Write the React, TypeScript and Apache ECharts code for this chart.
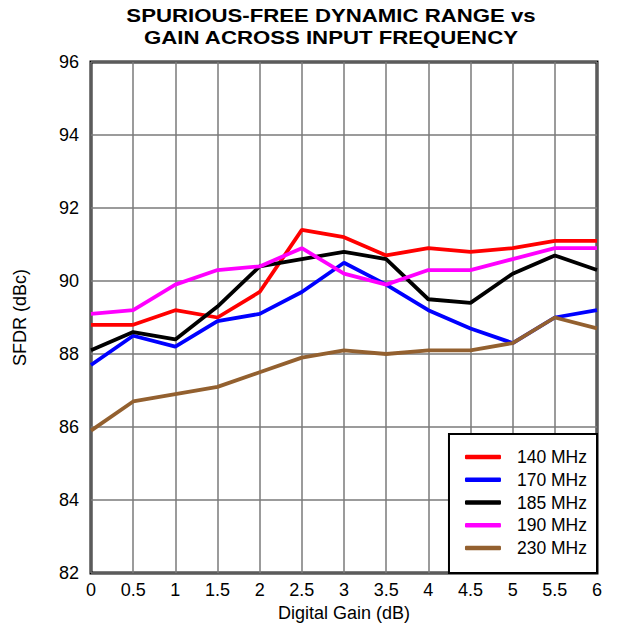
import React, { useEffect, useRef } from "react";
import * as echarts from "echarts";

const gains = [0, 0.5, 1, 1.5, 2, 2.5, 3, 3.5, 4, 4.5, 5, 5.5, 6];
const seriesNames = ["140 MHz", "170 MHz", "185 MHz", "190 MHz", "230 MHz"];
const s140 = [88.8, 88.8, 89.2, 89.0, 89.7, 91.4, 91.2, 90.7, 90.9, 90.8, 90.9, 91.1, 91.1];
const s170 = [87.7, 88.5, 88.2, 88.9, 89.1, 89.7, 90.5, 89.9, 89.2, 88.7, 88.3, 89.0, 89.2];
const s185 = [88.1, 88.6, 88.4, 89.3, 90.4, 90.6, 90.8, 90.6, 89.5, 89.4, 90.2, 90.7, 90.3];
const s190 = [89.1, 89.2, 89.9, 90.3, 90.4, 90.9, 90.2, 89.9, 90.3, 90.3, 90.6, 90.9, 90.9];
const s230 = [85.9, 86.7, 86.9, 87.1, 87.5, 87.9, 88.1, 88.0, 88.1, 88.1, 88.3, 89.0, 88.7];
const titleLines = ["SPURIOUS-FREE DYNAMIC RANGE vs", "GAIN ACROSS INPUT FREQUENCY"];
const colors = ["#ff0000", "#0000ff", "#000000", "#ff00ff", "#93602f"];

export default function App() {
  const ref = useRef<HTMLDivElement>(null);
  useEffect(() => {
    if (!ref.current) return;
    const chart = echarts.init(ref.current, undefined, { renderer: "svg" });
    const all = [s140, s170, s185, s190, s230];
    const font = "Liberation Sans, Arial, sans-serif";
    const titleY = [16, 38];
    chart.setOption({
      animation: false,
      backgroundColor: "#ffffff",
      graphic: titleLines.map((t, i) => ({
        type: "text",
        x: 331,
        y: titleY[i],
        scaleX: 1.2,
        style: {
          text: t,
          font: "bold 18.5px Liberation Sans, Arial, sans-serif",
          fill: "#000",
          align: "center",
          verticalAlign: "middle",
          textAlign: "center",
          textVerticalAlign: "middle",
        },
      })),
      grid: {
        left: 91,
        right: 24,
        top: 62,
        bottom: 54,
        show: true,
        borderColor: "#000",
        borderWidth: 3,
        backgroundColor: "transparent",
      },
      legend: {
        data: seriesNames,
        orient: "vertical",
        right: 24,
        bottom: 54,
        backgroundColor: "#ffffff",
        borderColor: "#000",
        borderWidth: 2,
        borderRadius: 0,
        padding: [14, 10, 16, 16],
        itemGap: 4.75,
        itemWidth: 36,
        itemHeight: 4.5,
        icon: "roundRect",
        textStyle: { fontFamily: font, fontSize: 17.5, color: "#000", padding: [0, 0, 0, 11] },
      },
      xAxis: {
        type: "value",
        min: 0,
        max: 6,
        interval: 0.5,
        name: "Digital Gain (dB)",
        nameLocation: "middle",
        nameGap: 30,
        nameTextStyle: { fontFamily: font, fontSize: 18, color: "#000" },
        axisLine: { show: false },
        axisTick: { show: false },
        axisLabel: { fontFamily: font, fontSize: 18, color: "#000", margin: 8 },
        splitLine: { show: true, lineStyle: { color: "#7a7a7a", width: 1.5 } },
      },
      yAxis: {
        type: "value",
        min: 82,
        max: 96,
        interval: 2,
        name: "SFDR (dBc)",
        nameLocation: "middle",
        nameGap: 62,
        nameRotate: 90,
        nameTextStyle: { fontFamily: font, fontSize: 18, color: "#000" },
        axisLine: { show: false },
        axisTick: { show: false },
        axisLabel: { fontFamily: font, fontSize: 18, color: "#000", margin: 12 },
        splitLine: { show: true, lineStyle: { color: "#7a7a7a", width: 1.5 } },
      },
      series: seriesNames.map((name, i) => ({
        name,
        type: "line",
        data: gains.map((g, j) => [g, all[i][j]]),
        symbol: "none",
        color: colors[i],
        lineStyle: { color: colors[i], width: 3.8 },
        itemStyle: { color: colors[i] },
      })),
    });
    return () => chart.dispose();
  }, []);
  return (
    <div
      ref={ref}
      style={{ position: "absolute", left: 0, top: 0, width: 621, height: 627, overflow: "hidden" }}
    />
  );
}
